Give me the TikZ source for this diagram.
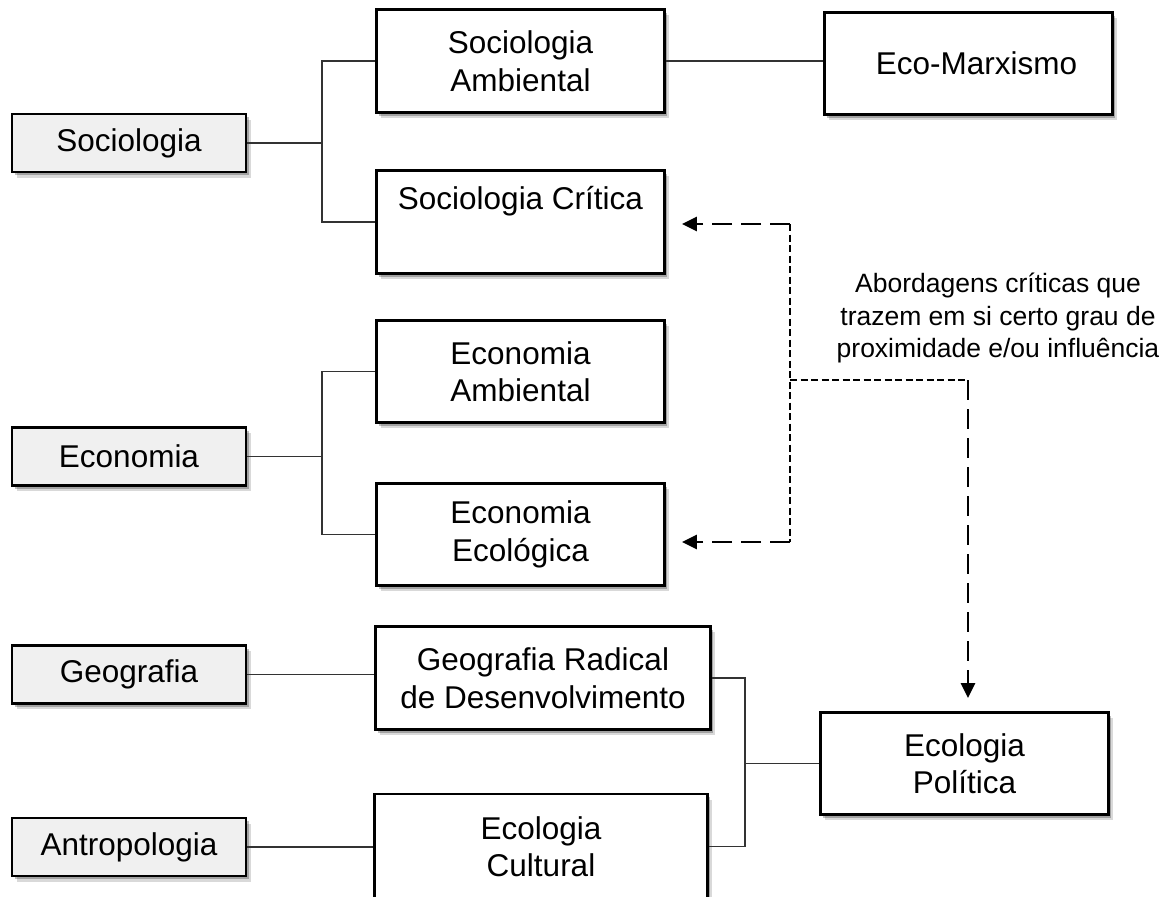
\documentclass[tikz,border=0pt]{standalone}
\usepackage{fontspec}
\setmainfont{Liberation Sans}
\usetikzlibrary{shadows,arrows.meta}
\newcommand{\diagfont}{\fontsize{31.5}{37.5}\selectfont}
\newcommand{\notefont}{\fontsize{26.5}{32.5}\selectfont}
\tikzset{
  box/.style={draw=black, line width=2.8pt, fill=white, align=center, font=\diagfont, inner sep=2pt,
    drop shadow={shadow xshift=4.5pt, shadow yshift=-5.5pt, opacity=0.15, fill=black},
    drop shadow={shadow xshift=2.5pt, shadow yshift=-3pt, opacity=0.25, fill=black}},
  catbox/.style={box, fill=black!6},
  link/.style={line width=1.3pt, draw=black!80},
  thindash/.style={line width=1.2pt, dash pattern=on 7pt off 3.5pt},
  thickdash/.style={line width=2.6pt, dash pattern=on 20pt off 9pt, -{Triangle[length=15pt,width=14pt]}},
}
\begin{document}
\begin{tikzpicture}[x=1pt,y=-1pt]
\path[use as bounding box, fill=white] (0,0) rectangle (1173,897);
\clip (0,0) rectangle (1173,897);

% left category boxes
\node[catbox, minimum width=234pt, minimum height=58pt] (soc) at (129,143) {Sociologia};
\node[catbox, minimum width=234pt, minimum height=58pt] (eco) at (129,456.5) {Economia};
\node[catbox, minimum width=234pt, minimum height=58pt] (geo) at (129,674.5) {Geografia};
\node[catbox, minimum width=234pt, minimum height=58pt] (ant) at (129,847) {Antropologia};

% middle boxes
\node[box, minimum width=288pt, minimum height=103pt] (socamb) at (520.5,61) {Sociologia\\Ambiental};
\node[box, minimum width=288pt, minimum height=103pt] (soccrit) at (520.5,222) {Sociologia Crítica\\\strut};
\node[box, minimum width=288pt, minimum height=102pt] (ecamb) at (520.5,371.5) {Economia\\Ambiental};
\node[box, minimum width=288pt, minimum height=102pt] (eceol) at (520.5,534.5) {Economia\\Ecológica};
\node[box, minimum width=335pt, minimum height=103pt] (georad) at (543,678) {Geografia Radical\\de Desenvolvimento};
\node[box, minimum width=333pt, minimum height=105pt] (ecocult) at (541,846.5) {Ecologia\\Cultural};

% right boxes
\node[box, minimum width=288pt, minimum height=102pt] (ecomarx) at (968.5,63.5) {\hspace*{16pt}Eco-Marxismo};
\node[box, minimum width=288pt, minimum height=102pt] (ecopol) at (964.5,763.5) {Ecologia\\Política};

% note
\node[font=\notefont, align=center] (note) at (998,318) {Abordagens críticas que\\trazem em si certo grau de\\proximidade e/ou influência};

% bracket joints
\coordinate (b1) at (322,143);
\coordinate (b2) at (322,456.5);
\coordinate (b3) at (745,763.5);

\draw[link] (socamb.west) -| (b1) |- (soccrit.west);
\draw[link] (soc.east) -- (b1);
\draw[link] (ecamb.west) -| (b2) |- (eceol.west);
\draw[link] (eco.east) -- (b2);
\draw[link] (socamb.east) -- (socamb.east -| ecomarx.west);
\draw[link] (geo.east) -- (geo.east -| georad.west);
\draw[link] (ant.east) -- (ant.east -| ecocult.west);
\draw[link] (georad.east) -| (b3) |- (ecocult.east);
\draw[link] (b3) -- (ecopol.west);

% dashed relations
\coordinate (j1) at (790,224);
\coordinate (j2) at (790,542);
\coordinate (j3) at (790,380);
\coordinate (k3) at (968,380);
\draw[thindash] (j1) -- (j2);
\draw[thindash] (j3) -- (k3);
\draw[thickdash, shorten >=16pt] (j1) -- (j1 -| soccrit.east);
\draw[thickdash, shorten >=16pt] (j2) -- (j2 -| eceol.east);
\draw[thickdash, shorten >=13pt] (k3) -- (k3 |- ecopol.north);
\end{tikzpicture}
\end{document}
